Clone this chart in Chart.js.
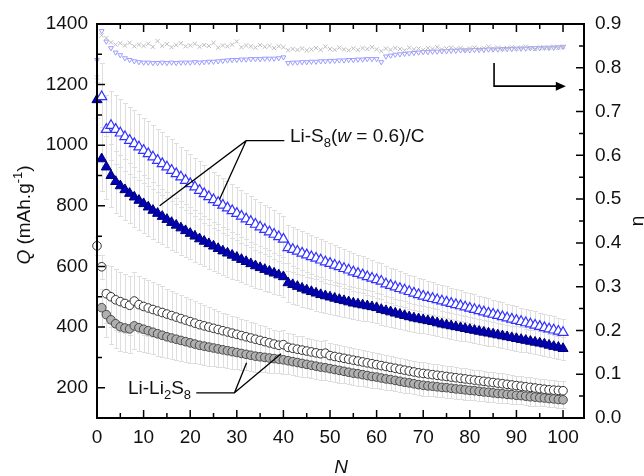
<!DOCTYPE html>
<html>
<head>
<meta charset="utf-8">
<script src="https://cdn.jsdelivr.net/npm/chart.js@4.4.1/dist/chart.umd.min.js"></script>
<style>
  html, body { margin: 0; padding: 0; background: #fff; }
</style>
</head>
<body>
<canvas id="chart" width="644" height="476"></canvas>
<script>
const FONT = '"Liberation Sans", Arial, sans-serif';

// cycle number N, 0..100
const cycles = Array.from({ length: 101 }, (_, i) => i);

// tick labels
const xTicks = [0, 10, 20, 30, 40, 50, 60, 70, 80, 90, 100];
const xMinorTicks = [5, 15, 25, 35, 45, 55, 65, 75, 85, 95];
const qTicks = [200, 400, 600, 800, 1000, 1200, 1400];
const qMinorTicks = [100, 300, 500, 700, 900, 1100, 1300];
const etaTicks = [0, 0.1, 0.2, 0.3, 0.4, 0.5, 0.6, 0.7, 0.8, 0.9];
const etaMinorTicks = [0.05, 0.15, 0.25, 0.35, 0.45, 0.55, 0.65, 0.75, 0.85];

// Li-S8(w = 0.6)/C, open triangles (Q, mAh/g)
const qS8Open = [null,1160,1052,1065,1052,1040,1028,1016,1005,994,
  983,972,961,950,939,928,917,906,895,884,
  873,862,851,840,830,820,811,802,793,784,
  775,766,757,748,739,730,722,714,706,698,
  690,662,656,650,644,638,632,627,621,615,
  610,604,599,593,588,582,577,572,566,561,
  556,551,542,537,532,527,522,517,512,507,
  502,498,494,490,486,482,478,474,470,466,
  462,458,454,450,446,442,438,434,430,426,
  422,418,414,410,406,402,398,394,390,386,
  382];
const errS8Open = [null,110,115,115,114,113,112,111,110,109,
  108,107,106,105,104,103,102,101,100,99,
  98,97,96,95,94,93,92,91,90,89,
  88,87,86,85,84,83,82,81,80,79,
  78,76,75,74,73,72,71,70,69,68,
  67,66,65,64,63,62,62,61,61,60,
  60,59,59,58,58,57,57,56,56,55,
  55,54,54,53,53,52,52,51,51,50,
  50,50,49,49,49,48,48,48,47,47,
  47,46,46,46,46,45,45,45,45,45,
  45];

// Li-S8(w = 0.6)/C, filled triangles
const qS8Filled = [1150,955,928,900,880,866,853,841,829,818,
  807,796,785,775,765,755,745,736,727,718,
  709,700,691,683,675,667,659,651,644,637,
  630,623,616,609,602,596,590,584,578,572,
  566,546,540,534,528,522,517,512,507,503,
  499,495,491,487,483,479,476,473,470,467,
  464,458,454,450,446,442,438,434,430,427,
  424,421,418,414,410,407,404,401,398,395,
  392,389,386,383,380,377,374,371,368,365,
  362,359,356,353,350,347,344,340,336,333,
  329];
const errS8Filled = [60,105,104,103,102,101,100,99,98,97,
  96,95,94,93,92,91,90,89,88,87,
  86,85,84,83,82,81,80,79,78,77,
  76,75,74,73,72,71,70,69,68,67,
  66,64,63,62,61,60,59,58,57,56,
  55,55,54,54,53,53,52,52,51,51,
  50,50,49,49,48,48,47,47,46,46,
  45,45,45,44,44,44,43,43,43,42,
  42,42,42,41,41,41,41,40,40,40,
  40,40,39,39,39,39,39,38,38,38,
  38];

// Li-Li2S8, open circles
const qLi2S8Open = [668,599,510,500,490,484,478,472,486,474,
  468,463,458,453,448,443,438,433,428,423,
  418,413,408,404,400,396,392,388,384,380,
  376,372,368,364,360,356,352,348,344,340,
  342,333,330,327,324,321,318,315,312,314,
  306,303,300,297,294,291,288,285,282,279,
  276,273,270,267,264,261,258,255,252,249,
  247,245,243,241,239,237,235,233,231,229,
  227,225,223,221,219,217,215,213,211,209,
  207,205,203,201,199,197,195,193,192,191,
  190];
const errLi2S8Open = [30,40,95,100,100,99,98,97,96,95,
  94,92,90,88,86,84,82,80,78,76,
  74,72,70,68,66,64,62,60,58,57,
  56,55,54,53,52,51,50,49,48,47,
  47,46,46,45,45,44,44,43,43,42,
  42,42,41,41,41,40,40,40,39,39,
  39,39,38,38,38,38,37,37,37,37,
  37,36,36,36,36,36,35,35,35,35,
  35,35,35,34,34,34,34,34,34,34,
  33,33,33,33,33,33,33,33,32,32,
  32];

// Li-Li2S8, grey circles
const qLi2S8Filled = [null,464,441,424,411,401,397,394,404,398,
  393,388,383,378,373,368,364,360,356,352,
  348,344,340,337,334,331,328,325,322,319,
  316,313,310,307,304,302,300,298,296,294,
  292,289,286,283,280,277,274,271,268,266,
  263,260,257,254,251,248,246,243,240,237,
  235,232,229,227,224,221,218,216,213,210,
  208,206,205,203,201,200,198,196,195,193,
  191,190,188,186,185,183,181,180,178,177,
  175,174,172,170,169,167,166,164,163,161,
  160];
const errLi2S8Filled = [null,60,75,80,80,80,79,78,77,76,
  75,74,73,72,71,70,69,68,67,66,
  65,64,63,62,61,60,59,58,57,56,
  55,54,53,52,51,50,49,48,47,46,
  46,45,45,44,44,43,43,42,42,41,
  41,40,40,40,39,39,39,38,38,38,
  37,37,37,36,36,36,35,35,35,35,
  34,34,34,34,33,33,33,33,32,32,
  32,32,31,31,31,31,30,30,30,30,
  30,29,29,29,29,29,28,28,28,28,
  28];

// coulombic efficiency (right axis)
const etaCross = [0.778,0.874,0.868,0.858,0.853,0.856,0.851,0.857,0.849,0.853,
  0.850,0.855,0.848,0.861,0.850,0.854,0.847,0.852,0.856,0.849,
  0.851,0.855,0.848,0.852,0.850,0.857,0.846,0.851,0.849,0.853,
  0.860,0.847,0.851,0.849,0.846,0.852,0.848,0.850,0.845,0.849,
  0.847,0.840,0.843,0.841,0.844,0.840,0.842,0.845,0.841,0.848,
  0.843,0.841,0.846,0.842,0.840,0.844,0.841,0.845,0.843,0.847,
  0.842,0.838,0.844,0.841,0.845,0.843,0.840,0.846,0.842,0.844,
  0.841,0.845,0.843,0.847,0.842,0.844,0.846,0.843,0.845,0.841,
  0.844,0.846,0.843,0.845,0.848,0.844,0.846,0.843,0.845,0.847,
  0.844,0.846,0.848,0.845,0.843,0.847,0.845,0.846,0.848,0.846,
  0.848];
const etaTri = [0.818,0.884,0.860,0.845,0.835,0.829,0.822,0.818,0.815,0.813,
  0.812,0.812,0.811,0.811,0.812,0.811,0.812,0.811,0.812,0.812,
  0.812,0.813,0.812,0.813,0.814,0.814,0.815,0.816,0.817,0.818,
  0.818,0.819,0.819,0.820,0.820,0.820,0.821,0.821,0.821,0.822,
  0.824,0.811,0.812,0.812,0.813,0.813,0.814,0.814,0.815,0.815,
  0.816,0.816,0.817,0.817,0.818,0.818,0.819,0.819,0.820,0.820,
  0.820,0.813,0.826,0.828,0.830,0.831,0.832,0.833,0.834,0.835,
  0.836,0.836,0.837,0.837,0.838,0.838,0.839,0.839,0.840,0.840,
  0.840,0.841,0.841,0.841,0.842,0.842,0.842,0.843,0.843,0.843,
  0.844,0.844,0.844,0.845,0.845,0.845,0.846,0.846,0.846,0.847,
  0.848];

function points(vals, errs) {
  return cycles
    .map((n, i) => ({ x: n, y: vals[i], e: errs ? errs[i] : null }))
    .filter(p => p.y != null);
}

// grey error bars, drawn behind the markers
const errorBars = {
  id: 'errorBars',
  beforeDatasetsDraw(chart) {
    const { ctx } = chart;
    ctx.save();
    ctx.strokeStyle = '#dedede';
    ctx.lineWidth = 1;
    chart.data.datasets.forEach(ds => {
      const ys = chart.scales[ds.yAxisID];
      ds.data.forEach(p => {
        if (p.e == null) return;
        const px = Math.round(chart.scales.x.getPixelForValue(p.x)) + 0.5;
        const top = Math.round(ys.getPixelForValue(p.y + p.e)) + 0.5;
        const bot = Math.round(ys.getPixelForValue(p.y - p.e)) + 0.5;
        ctx.beginPath();
        ctx.moveTo(px, top); ctx.lineTo(px, bot);
        ctx.moveTo(px - 2.5, top); ctx.lineTo(px + 2.5, top);
        ctx.moveTo(px - 2.5, bot); ctx.lineTo(px + 2.5, bot);
        ctx.stroke();
      });
    });
    ctx.restore();
  }
};

// box and inward ticks on all four sides
const frame = {
  id: 'frame',
  afterDatasetsDraw(chart) {
    const { ctx, chartArea: a, scales } = chart;
    const seg = (x1, y1, x2, y2) => { ctx.moveTo(x1, y1); ctx.lineTo(x2, y2); };
    ctx.save();
    ctx.strokeStyle = '#000';
    ctx.lineWidth = 1.5;
    ctx.beginPath();
    const xt = (list, len) => list.forEach(v => {
      const px = scales.x.getPixelForValue(v);
      seg(px, a.bottom, px, a.bottom - len);
      seg(px, a.top, px, a.top + len);
    });
    xt(xTicks, 8); xt(xMinorTicks, 5);
    const lt = (list, len) => list.forEach(v => {
      const py = scales.y.getPixelForValue(v);
      seg(a.left, py, a.left + len, py);
    });
    lt(qTicks, 8); lt(qMinorTicks, 5);
    const rt = (list, len) => list.forEach(v => {
      const py = scales.y1.getPixelForValue(v);
      seg(a.right, py, a.right - len, py);
    });
    rt(etaTicks, 8); rt(etaMinorTicks, 5);
    ctx.stroke();
    ctx.lineWidth = 2;
    ctx.strokeRect(a.left, a.top, a.right - a.left, a.bottom - a.top);
    ctx.restore();
  }
};

function richText(ctx, parts, x, y, align) {
  const setFont = p => { ctx.font = (p.style || '') + ' ' + p.size + 'px ' + FONT; };
  let w = 0;
  parts.forEach(p => { setFont(p); w += ctx.measureText(p.t).width; });
  let cx = align === 'center' ? x - w / 2 : x;
  parts.forEach(p => {
    setFont(p);
    ctx.fillText(p.t, cx, y + (p.dy || 0));
    cx += ctx.measureText(p.t).width;
  });
}

// labels, leader lines, arrow and axis titles
const notes = {
  id: 'notes',
  afterDraw(chart) {
    const { ctx, scales: { x, y, y1 } } = chart;
    const P = (n, q, s) => [x.getPixelForValue(n), (s || y).getPixelForValue(q)];
    ctx.save();
    ctx.strokeStyle = '#000';
    ctx.fillStyle = '#111';
    ctx.lineWidth = 1.3;
    ctx.textBaseline = 'alphabetic';

    // Li-S8 leader
    let j = P(32.0, 1015);
    let h = P(40.2, 1015);
    let l1 = P(13.45, 800);
    let l2 = P(26.3, 822);
    ctx.beginPath();
    ctx.moveTo(h[0], h[1]); ctx.lineTo(j[0], j[1]); ctx.lineTo(l1[0], l1[1]);
    ctx.moveTo(j[0], j[1]); ctx.lineTo(l2[0], l2[1]);
    ctx.stroke();
    richText(ctx, [
      { t: 'Li-S', size: 19 },
      { t: '8', size: 13, dy: 5 },
      { t: '(', size: 19 },
      { t: 'w', size: 19, style: 'italic' },
      { t: ' = 0.6)/C', size: 19 }
    ], 290, 142);

    // Li-Li2S8 leader
    j = P(29.5, 183);
    h = P(21.3, 183);
    l1 = P(32.1, 282);
    l2 = P(39.5, 312);
    ctx.beginPath();
    ctx.moveTo(h[0], h[1]); ctx.lineTo(j[0], j[1]); ctx.lineTo(l1[0], l1[1]);
    ctx.moveTo(j[0], j[1]); ctx.lineTo(l2[0], l2[1]);
    ctx.stroke();
    richText(ctx, [
      { t: 'Li-Li', size: 19 },
      { t: '2', size: 13, dy: 5 },
      { t: 'S', size: 19 },
      { t: '8', size: 13, dy: 5 }
    ], 128, 394);

    // arrow pointing to the right axis
    const a0 = P(85.2, 0.811, y1), a1 = P(85.2, 0.758, y1), a2 = P(100.6, 0.758, y1);
    ctx.lineWidth = 1.6;
    ctx.beginPath();
    ctx.moveTo(a0[0], a0[1]); ctx.lineTo(a1[0], a1[1]); ctx.lineTo(a2[0] - 6, a2[1]);
    ctx.stroke();
    ctx.beginPath();
    ctx.moveTo(a2[0], a2[1]); ctx.lineTo(a2[0] - 10, a2[1] - 4.5); ctx.lineTo(a2[0] - 10, a2[1] + 4.5);
    ctx.closePath();
    ctx.fillStyle = '#000';
    ctx.fill();

    // axis titles
    ctx.fillStyle = '#111';
    richText(ctx, [{ t: 'N', size: 19, style: 'italic' }], 341, 473, 'center');
    ctx.save();
    ctx.translate(30, 215);
    ctx.rotate(-Math.PI / 2);
    richText(ctx, [
      { t: 'Q', size: 19, style: 'italic' },
      { t: ' (mAh.g', size: 19 },
      { t: '-1', size: 13, dy: -8 },
      { t: ')', size: 19 }
    ], 0, 0, 'center');
    ctx.restore();
    ctx.save();
    ctx.translate(643, 221);
    ctx.rotate(-Math.PI / 2);
    richText(ctx, [{ t: 'η', size: 19 }], 0, 0, 'center');
    ctx.restore();
    ctx.restore();
  }
};

const tickFont = { family: FONT, size: 19 };

new Chart(document.getElementById('chart'), {
  type: 'scatter',
  data: {
    datasets: [
      {
        label: 'eta cross', data: points(etaCross), yAxisID: 'y1',
        pointStyle: 'crossRot', pointRadius: 3, borderColor: '#bcbcbc', borderWidth: 1, clip: false
      },
      {
        label: 'eta triangle', data: points(etaTri), yAxisID: 'y1',
        pointStyle: 'triangle', rotation: 180, pointRadius: 2.8,
        borderColor: '#9c9cff', backgroundColor: '#ffffff', borderWidth: 1, clip: false
      },
      {
        label: 'Li-S8 open', data: points(qS8Open, errS8Open), yAxisID: 'y',
        pointStyle: 'triangle', pointRadius: 5.8,
        borderColor: '#3232ff', backgroundColor: '#ffffff', borderWidth: 1.2, clip: false
      },
      {
        label: 'Li-S8 filled', data: points(qS8Filled, errS8Filled), yAxisID: 'y',
        pointStyle: 'triangle', pointRadius: 5.8,
        borderColor: '#00006e', backgroundColor: '#0000b8', borderWidth: 1, clip: false
      },
      {
        label: 'Li-Li2S8 open', data: points(qLi2S8Open, errLi2S8Open), yAxisID: 'y',
        pointStyle: 'circle', pointRadius: 4.3,
        borderColor: '#333333', backgroundColor: '#ffffff', borderWidth: 1, clip: false
      },
      {
        label: 'Li-Li2S8 filled', data: points(qLi2S8Filled, errLi2S8Filled), yAxisID: 'y',
        pointStyle: 'circle', pointRadius: 4.3,
        borderColor: '#4a4a4a', backgroundColor: '#b0b0b0', borderWidth: 1, clip: false
      }
    ]
  },
  options: {
    responsive: false,
    animation: false,
    events: [],
    layout: { padding: { top: 24 } },
    plugins: { legend: { display: false }, tooltip: { enabled: false } },
    scales: {
      x: {
        type: 'linear', min: 0, max: 104.5,
        afterBuildTicks: s => { s.ticks = xTicks.map(v => ({ value: v })); },
        afterFit: s => { s.height = 58; },
        grid: { display: false, drawTicks: false },
        border: { display: false },
        ticks: { font: tickFont, color: '#111', padding: 8, maxRotation: 0, callback: v => String(v) }
      },
      y: {
        position: 'left', min: 100, max: 1400,
        afterBuildTicks: s => { s.ticks = qTicks.map(v => ({ value: v })); },
        afterFit: s => { s.width = 97; },
        grid: { display: false, drawTicks: false },
        border: { display: false },
        ticks: { font: tickFont, color: '#111', padding: 9, callback: v => String(v) }
      },
      y1: {
        position: 'right', min: 0, max: 0.9,
        afterBuildTicks: s => { s.ticks = etaTicks.map(v => ({ value: v })); },
        afterFit: s => { s.width = 60; },
        grid: { display: false, drawTicks: false },
        border: { display: false },
        ticks: { font: tickFont, color: '#111', padding: 11, callback: v => v.toFixed(1) }
      }
    }
  },
  plugins: [errorBars, frame, notes]
});
</script>
</body>
</html>
